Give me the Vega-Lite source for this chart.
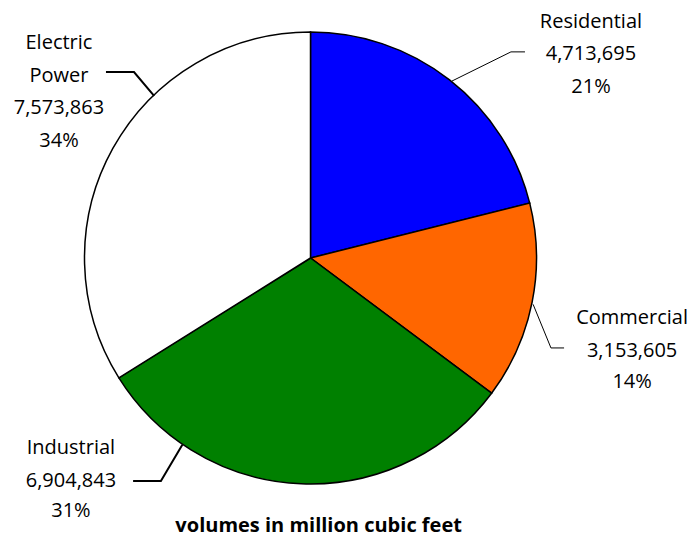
{
  "$schema": "https://vega.github.io/schema/vega-lite/v6.json",
  "width": 621,
  "height": 516,
  "autosize": {"type": "none"},
  "padding": {"left": 0, "top": 0, "right": 76, "bottom": 24},
  "background": "white",
  "config": {"view": {"stroke": null}},
  "datasets": {
    "leaders": [
      {"sector": "Residential", "seq": 1, "lx": 0.626, "ly": 0.783},
      {"sector": "Residential", "seq": 2, "lx": 0.887, "ly": 0.912},
      {"sector": "Residential", "seq": 3, "lx": 0.949, "ly": 0.912},
      {"sector": "Commercial", "seq": 1, "lx": 0.985, "ly": -0.205},
      {"sector": "Commercial", "seq": 2, "lx": 1.064, "ly": -0.398},
      {"sector": "Commercial", "seq": 3, "lx": 1.122, "ly": -0.398},
      {"sector": "Industrial", "seq": 1, "lx": -0.567, "ly": -0.826},
      {"sector": "Industrial", "seq": 2, "lx": -0.662, "ly": -0.987},
      {"sector": "Industrial", "seq": 3, "lx": -0.785, "ly": -0.987},
      {"sector": "Electric Power", "seq": 1, "lx": -0.692, "ly": 0.717},
      {"sector": "Electric Power", "seq": 2, "lx": -0.781, "ly": 0.823},
      {"sector": "Electric Power", "seq": 3, "lx": -0.905, "ly": 0.823}
    ]
  },
  "layer": [
    {
      "data": {"values": [
        {"sector": "Residential", "volume": 4713695, "order": 1},
        {"sector": "Commercial", "volume": 3153605, "order": 2},
        {"sector": "Industrial", "volume": 6904843, "order": 3},
        {"sector": "Electric Power", "volume": 7573863, "order": 4}
      ]},
      "mark": {"type": "arc", "outerRadius": 226, "stroke": "black", "strokeWidth": 1.5},
      "encoding": {
        "theta": {"field": "volume", "type": "quantitative", "stack": true},
        "order": {"field": "order", "type": "quantitative"},
        "color": {
          "field": "sector",
          "type": "nominal",
          "scale": {"domain": ["Residential", "Commercial", "Industrial", "Electric Power"], "range": ["#0000FF", "#FF6600", "#008000", "#FFFFFF"]},
          "legend": null
        }
      }
    },
    {
      "data": {"name": "leaders"},
      "transform": [{"filter": "datum.sector === 'Residential' || datum.sector === 'Commercial'"}],
      "mark": {"type": "line", "stroke": "black", "strokeWidth": 1},
      "encoding": {
        "x": {"field": "lx", "type": "quantitative", "scale": {"domain": [-1.3739, 1.3739], "nice": false, "zero": false}, "axis": null},
        "y": {"field": "ly", "type": "quantitative", "scale": {"domain": [-1.1416, 1.1416], "nice": false, "zero": false}, "axis": null},
        "detail": {"field": "sector", "type": "nominal"},
        "order": {"field": "seq", "type": "quantitative"}
      }
    },
    {
      "data": {"name": "leaders"},
      "transform": [{"filter": "datum.sector === 'Industrial' || datum.sector === 'Electric Power'"}],
      "mark": {"type": "line", "stroke": "black", "strokeWidth": 2},
      "encoding": {
        "x": {"field": "lx", "type": "quantitative", "scale": {"domain": [-1.3739, 1.3739], "nice": false, "zero": false}, "axis": null},
        "y": {"field": "ly", "type": "quantitative", "scale": {"domain": [-1.1416, 1.1416], "nice": false, "zero": false}, "axis": null},
        "detail": {"field": "sector", "type": "nominal"},
        "order": {"field": "seq", "type": "quantitative"}
      }
    },
    {
      "data": {"values": [
        {"txt": "Residential", "tx": 1.241, "ty": 1.044},
        {"txt": "4,713,695", "tx": 1.241, "ty": 0.903},
        {"txt": "21%", "tx": 1.241, "ty": 0.757},
        {"txt": "Commercial", "tx": 1.423, "ty": -0.265},
        {"txt": "3,153,605", "tx": 1.423, "ty": -0.412},
        {"txt": "14%", "tx": 1.423, "ty": -0.549},
        {"txt": "Industrial", "tx": -1.06, "ty": -0.841},
        {"txt": "6,904,843", "tx": -1.06, "ty": -0.987},
        {"txt": "31%", "tx": -1.06, "ty": -1.119},
        {"txt": "Electric", "tx": -1.113, "ty": 0.951},
        {"txt": "Power", "tx": -1.113, "ty": 0.805},
        {"txt": "7,573,863", "tx": -1.113, "ty": 0.664},
        {"txt": "34%", "tx": -1.113, "ty": 0.518}
      ]},
      "mark": {"type": "text", "font": "Open Sans", "fontSize": 20, "color": "black", "align": "center", "baseline": "middle"},
      "encoding": {
        "x": {"field": "tx", "type": "quantitative", "scale": {"domain": [-1.3739, 1.3739], "nice": false, "zero": false}, "axis": null},
        "y": {"field": "ty", "type": "quantitative", "scale": {"domain": [-1.1416, 1.1416], "nice": false, "zero": false}, "axis": null},
        "text": {"field": "txt", "type": "nominal"}
      }
    },
    {
      "data": {"values": [
        {"txt": "volumes in million cubic feet", "tx": 0.036, "ty": -1.186}
      ]},
      "mark": {"type": "text", "font": "Open Sans", "fontSize": 20, "fontWeight": "bold", "color": "black", "align": "center", "baseline": "middle"},
      "encoding": {
        "x": {"field": "tx", "type": "quantitative", "scale": {"domain": [-1.3739, 1.3739], "nice": false, "zero": false}, "axis": null},
        "y": {"field": "ty", "type": "quantitative", "scale": {"domain": [-1.1416, 1.1416], "nice": false, "zero": false}, "axis": null},
        "text": {"field": "txt", "type": "nominal"}
      }
    }
  ]
}
